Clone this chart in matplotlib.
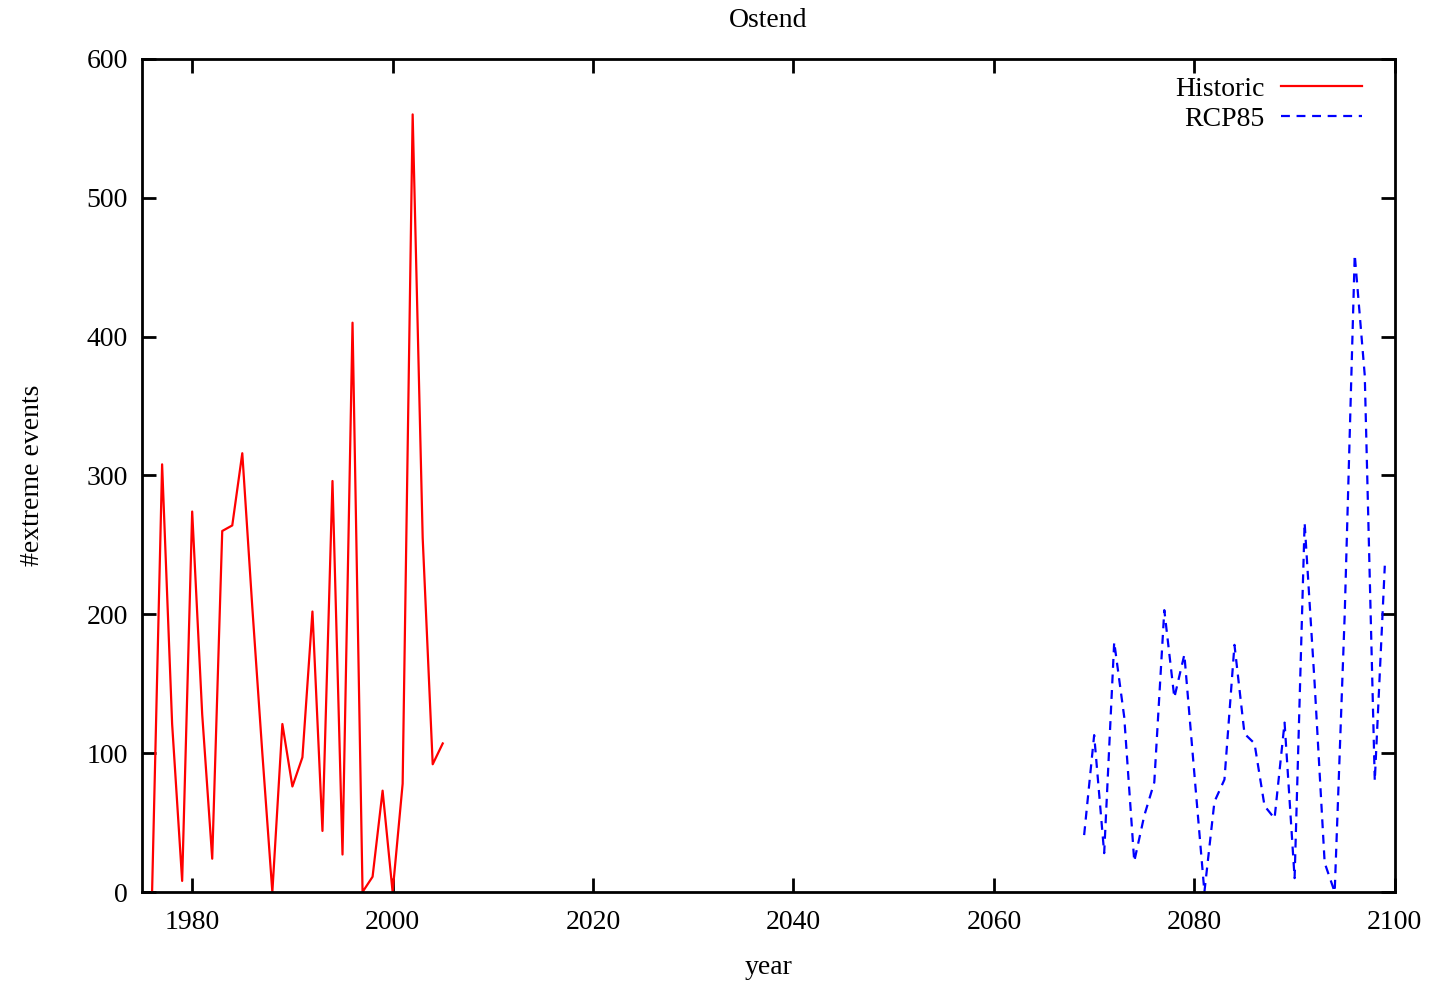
import matplotlib
matplotlib.use("Agg")
import matplotlib.pyplot as plt

# historic yearly counts, 1976-2005
hist_years = list(range(1976, 2006))
hist_counts = [0, 308, 121, 8, 274, 128, 24, 260, 264, 316,
               205, 100, 0, 121, 76, 97, 202, 44, 296, 27,
               410, 0, 11, 73, 0, 78, 560, 255, 92, 107]

# RCP85 scenario, 2069-2099
rcp_years = list(range(2069, 2100))
rcp_counts = [41, 113, 28, 180, 126, 22, 55, 79, 203, 140,
              171, 85, 0, 65, 81, 178, 114, 107, 62, 53,
              122, 10, 266, 150, 21, 0, 200, 459, 372, 80,
              235]

plt.rcParams['font.family'] = ['Liberation Serif', 'DejaVu Serif']
FS = 20

fig = plt.figure(figsize=(14.35, 9.81), dpi=100)
ax = fig.add_axes([0.099, 0.0907, 0.873, 0.8493])

ax.plot(hist_years, hist_counts, color='#ff0000', lw=1.6, label='Historic')
ax.plot(rcp_years, rcp_counts, color='#0000ff', lw=1.6, ls=(0, (4, 3)), label='RCP85')

ax.set_xlim(1975, 2100)
ax.set_ylim(0, 600)
ax.set_xticks(range(1980, 2101, 20))
ax.set_yticks(range(0, 601, 100))
ax.tick_params(direction='in', length=10, width=2, top=True, right=True,
               labelsize=FS, pad=10)
ax.tick_params(axis='x', pad=13)
for s in ax.spines.values():
    s.set_linewidth(2)

ax.set_title('Ostend', fontsize=FS, pad=23)
ax.set_xlabel('year', fontsize=FS, labelpad=14)
ax.set_ylabel('#extreme events', fontsize=FS, labelpad=30)

ax.legend(loc='upper right', frameon=False, markerfirst=False, fontsize=FS,
          handlelength=2.9, handletextpad=0.6, labelspacing=0.15,
          borderaxespad=0.3, bbox_to_anchor=(0.989, 1.002))

fig.savefig('out.png', dpi=100)
